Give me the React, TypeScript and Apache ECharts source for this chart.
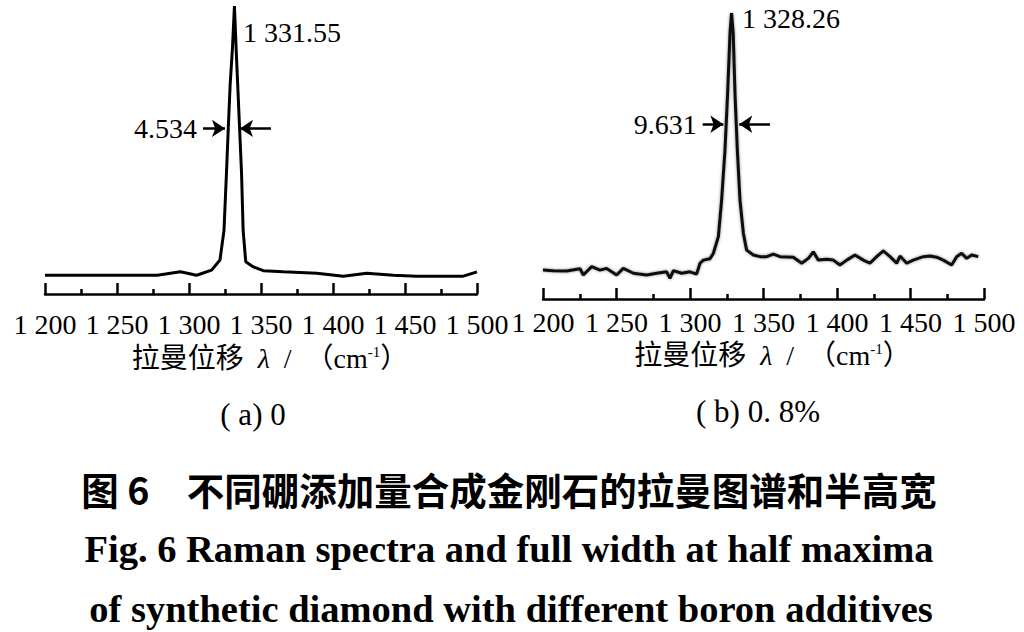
import React, { useEffect, useRef } from "react";
import * as echarts from "echarts";

// Panel (a) boron 0
const ramanAX = [1200, 1278, 1294, 1305.3, 1315.7, 1321.5, 1324.3, 1326, 1327.3, 1328.6, 1330.2, 1331.55, 1332.7, 1333.8, 1335.1, 1336.5, 1337.6, 1339.4, 1344.7, 1351.6, 1365.5, 1388.7, 1407.2, 1423.4, 1441.9, 1458.1, 1490.5, 1500];
const ramanAY = [6.5, 6.5, 7.7, 6.5, 8.3, 11.8, 22.1, 41.8, 57.9, 72.9, 85.6, 100, 85.6, 72.9, 57.9, 41.8, 22.1, 11.2, 9.4, 8.1, 7.7, 7.2, 6.2, 7.2, 6.5, 6.2, 6.2, 7.7];

// Panel (b) boron 0.8%
const ramanBX = [1200, 1207, 1216.1, 1225.2, 1227.4, 1233.1, 1238.8, 1243.3, 1250.1, 1254.6, 1261.5, 1270.5, 1277.3, 1284.1, 1286.4, 1288.7, 1294.3, 1300, 1304.5, 1306.8, 1309.1, 1313.6, 1315.9, 1319.3, 1321.5, 1323.8, 1325.6, 1327.2, 1328.26, 1329.4, 1330.6, 1332.2, 1334, 1336.3, 1338.5, 1343.1, 1347.6, 1352.2, 1356.7, 1361.2, 1370.3, 1376, 1380.5, 1383.9, 1387.3, 1393, 1397.5, 1402, 1406.6, 1412.2, 1417.9, 1422.4, 1427, 1431.5, 1436.1, 1440.6, 1442.9, 1447.4, 1451.9, 1458.7, 1463.3, 1467.8, 1472.3, 1478, 1481.4, 1484.8, 1488.2, 1491.6, 1496.1];
const ramanBY = [10.1, 9.9, 9.8, 10.6, 8.4, 11.3, 10.1, 10.7, 8.4, 10.7, 9.0, 8.4, 9.0, 9.5, 7.2, 9.9, 9.0, 9.5, 8.7, 12.5, 13.6, 14.1, 16.0, 21.8, 34.6, 52.1, 71.9, 92.9, 100, 92.9, 71.9, 52.1, 34.6, 23.0, 17.1, 15.4, 14.8, 14.8, 15.7, 14.8, 14.6, 12.5, 14.2, 16.5, 13.6, 13.9, 13.6, 11.9, 13.6, 15.4, 13.6, 12.5, 14.8, 16.8, 14.8, 12.5, 15.0, 12.5, 13.6, 14.8, 15.0, 14.6, 13.6, 11.9, 14.8, 16.0, 14.2, 15.4, 14.8];

const xTicks = [1200, 1250, 1300, 1350, 1400, 1450, 1500];
const tickLabels = ["1 200", "1 250", "1 300", "1 350", "1 400", "1 450", "1 500"];

const peakA = { x: 1331.55, y: 100, label: "1 331.55" };
const peakB = { x: 1328.26, y: 100, label: "1 328.26" };
const fwhmA = { y: 57.5, leftFrom: 1309.7, leftTo: 1325, rightFrom: 1356.9, rightTo: 1335.4, label: "4.534" };
const fwhmB = { y: 61.1, leftFrom: 1308.6, leftTo: 1322.7, rightFrom: 1354.4, rightTo: 1333.5, label: "9.631" };

const axisTitle = "拉曼位移  {it|λ}  /  （cm{sup|-1}）";
const captionA = "( a) 0";
const captionB = "( b) 0. 8%";
const titleCn = "图 6　不同硼添加量合成金刚石的拉曼图谱和半高宽";
const titleEn1 = "Fig. 6 Raman spectra and full width at half maxima";
const titleEn2 = "of synthetic diamond with different boron additives";

const SERIF = "'Liberation Serif', 'Noto Sans CJK SC', serif";

function zip(xs: number[], ys: number[]) {
  return xs.map((x, i) => [x, ys[i]]);
}

function xAxisOf(gridIndex: number, labelMargin: number, nameGap: number) {
  return {
    gridIndex,
    type: "value",
    min: 1200,
    max: 1500,
    interval: 50,
    axisLine: { show: true, lineStyle: { color: "#000", width: 2.5 } },
    axisTick: { show: true, inside: true, length: 11, lineStyle: { color: "#000", width: 2.5 } },
    minorTick: { show: true, splitNumber: 2, length: 5, lineStyle: { color: "#000", width: 2.5 } },
    splitLine: { show: false },
    axisLabel: {
      color: "#000",
      fontSize: 28,
      fontFamily: SERIF,
      margin: labelMargin,
      formatter: (v: number) => {
        const i = xTicks.indexOf(v);
        return i >= 0 ? tickLabels[i] : "";
      },
    },
    name: axisTitle,
    nameLocation: "middle",
    nameGap,
    nameTextStyle: {
      color: "#000",
      fontSize: 28,
      fontFamily: SERIF,
      padding: [0, 0, 0, 18],
      rich: {
        it: { fontSize: 28, fontStyle: "italic", fontFamily: SERIF, color: "#000" },
        sup: { fontSize: 15, fontFamily: SERIF, color: "#000", verticalAlign: "top", padding: [0, 0, 10, 0] },
      },
    },
  };
}

function fwhmLines(f: any) {
  return {
    silent: true,
    symbol: ["none", "arrow"],
    symbolSize: 13,
    itemStyle: { color: "#000" },
    lineStyle: { color: "#000", width: 2.5, type: "solid" },
    label: { show: false },
    data: [
      [
        {
          coord: [f.leftFrom, f.y],
          label: { show: true, position: "start", distance: 6, formatter: f.label, color: "#000", fontSize: 28, fontFamily: SERIF },
        },
        { coord: [f.leftTo, f.y] },
      ],
      [{ coord: [f.rightFrom, f.y], label: { show: false } }, { coord: [f.rightTo, f.y] }],
    ],
  };
}

function peakPoint(p: any, offset: number[]) {
  return {
    silent: true,
    symbol: "circle",
    symbolSize: 1,
    itemStyle: { color: "rgba(0,0,0,0)" },
    label: {
      show: true,
      position: "right",
      distance: 0,
      offset,
      formatter: p.label,
      color: "#000",
      fontSize: 28,
      fontFamily: SERIF,
    },
    data: [{ coord: [p.x, p.y] }],
  };
}

function textEl(text: string, x: number, y: number, fontSize: number, fontWeight: string, fontFamily: string) {
  return {
    type: "text",
    x,
    y,
    silent: true,
    style: {
      text,
      fill: "#000",
      fontSize,
      fontWeight,
      fontFamily,
      align: "center",
      verticalAlign: "middle",
      textAlign: "center",
      textVerticalAlign: "middle",
    },
  };
}

export default function App() {
  const ref = useRef<HTMLDivElement>(null);
  useEffect(() => {
    if (!ref.current) return;
    const chart = echarts.init(ref.current, undefined, { renderer: "svg" });
    chart.setOption({
      animation: false,
      backgroundColor: "#fff",
      grid: [
        { left: 45, top: 6, width: 432, height: 288 },
        { left: 543, top: 13, width: 441, height: 286 },
      ],
      xAxis: [xAxisOf(0, 16, 50), xAxisOf(1, 9, 42)],
      yAxis: [
        { gridIndex: 0, type: "value", min: 0, max: 100, show: false },
        { gridIndex: 1, type: "value", min: 0, max: 100, show: false },
      ],
      series: [
        {
          type: "line",
          xAxisIndex: 0,
          yAxisIndex: 0,
          data: zip(ramanAX, ramanAY),
          symbol: "none",
          lineStyle: { color: "#000", width: 3 },
          markLine: fwhmLines(fwhmA),
          markPoint: peakPoint(peakA, [8, 26]),
        },
        {
          type: "line",
          xAxisIndex: 1,
          yAxisIndex: 1,
          data: zip(ramanBX, ramanBY),
          symbol: "none",
          lineStyle: { color: "#111", width: 3, shadowColor: "rgba(0,0,0,0.45)", shadowBlur: 3 },
          markLine: fwhmLines(fwhmB),
          markPoint: peakPoint(peakB, [10, 5]),
        },
      ],
      graphic: [
        textEl(captionA, 253, 414, 31, "normal", SERIF),
        textEl(captionB, 758, 411, 31, "normal", SERIF),
        textEl(titleCn, 509, 488, 37.5, "bold", "'Noto Sans CJK SC', sans-serif"),
        textEl(titleEn1, 509, 549, 38.5, "bold", "'Liberation Serif', serif"),
        textEl(titleEn2, 511, 609, 38.5, "bold", "'Liberation Serif', serif"),
      ],
    });
    return () => chart.dispose();
  }, []);
  return (
    <div
      ref={ref}
      style={{ position: "absolute", left: 0, top: 0, width: 1024, height: 632, background: "#fff" }}
    />
  );
}
